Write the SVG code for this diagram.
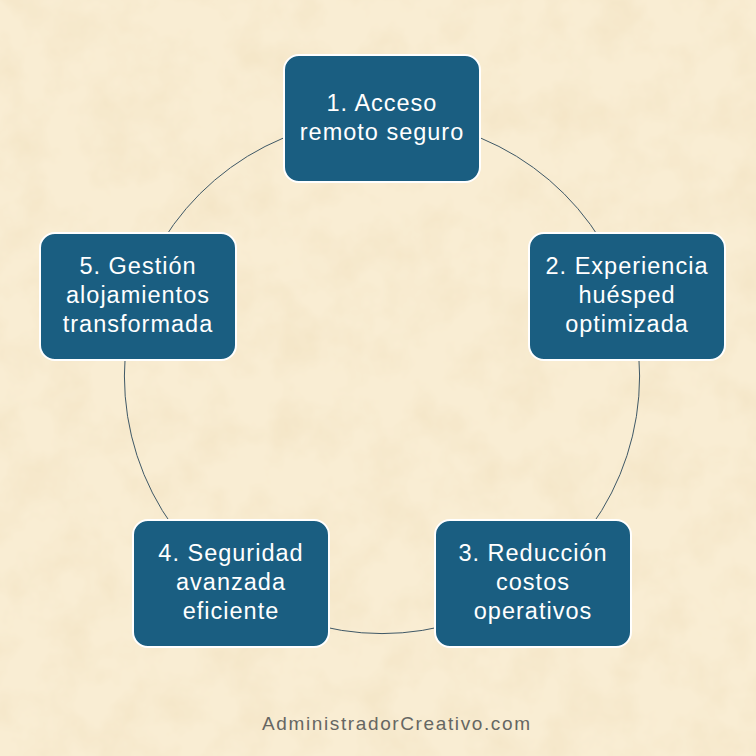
<svg xmlns="http://www.w3.org/2000/svg" width="756" height="756" viewBox="0 0 756 756">
<defs>
<filter id="paper" x="0" y="0" width="100%" height="100%" filterUnits="userSpaceOnUse">
<feTurbulence type="fractalNoise" baseFrequency="0.022" numOctaves="4" seed="7"/>
<feColorMatrix type="matrix" values="0 0 0 0 0.90  0 0 0 0 0.78  0 0 0 0 0.56  0 0 0 1.6 -0.62"/>
</filter>
<style>
.box{fill:#1a5e81;stroke:#ffffff;stroke-width:2}
.lbl{font-family:"Liberation Sans",Arial,sans-serif;font-size:23.5px;fill:#ffffff;text-anchor:middle;letter-spacing:1px}
.arc{fill:none;stroke:#3f5866;stroke-width:1}
.foot{font-family:"Liberation Sans",Arial,sans-serif;font-size:19px;fill:#666662;text-anchor:middle}
</style>
</defs>
<rect x="0" y="0" width="756" height="756" fill="#f9edd3"/>
<rect x="0" y="0" width="756" height="756" filter="url(#paper)"/>
<g id="connectors">
<path class="arc" d="M382,118.4 A257.6,257.6 0 0 1 627,296.4"/>
<path class="arc" d="M627,296.4 A257.6,257.6 0 0 1 533.4,584.4"/>
<path class="arc" d="M533.4,584.4 A257.6,257.6 0 0 1 230.6,584.4"/>
<path class="arc" d="M230.6,584.4 A257.6,257.6 0 0 1 137,296.4"/>
<path class="arc" d="M137,296.4 A257.6,257.6 0 0 1 382,118.4"/>
</g>
<g id="node1">
<rect class="box" x="284" y="55" width="196" height="127" rx="15"/>
<text class="lbl" x="382" y="111">1. Acceso</text>
<text class="lbl" x="382" y="139.5">remoto seguro</text>
</g>
<g id="node2">
<rect class="box" x="529" y="233" width="196" height="127" rx="15"/>
<text class="lbl" x="627" y="273.5">2. Experiencia</text>
<text class="lbl" x="627" y="302.5">huésped</text>
<text class="lbl" x="627" y="331.5">optimizada</text>
</g>
<g id="node3">
<rect class="box" x="435" y="520" width="196" height="127" rx="15"/>
<text class="lbl" x="533" y="560.5">3. Reducción</text>
<text class="lbl" x="533" y="589.5">costos</text>
<text class="lbl" x="533" y="618.5">operativos</text>
</g>
<g id="node4">
<rect class="box" x="133" y="520" width="196" height="127" rx="15"/>
<text class="lbl" x="231" y="560.5">4. Seguridad</text>
<text class="lbl" x="231" y="589.5">avanzada</text>
<text class="lbl" x="231" y="618.5">eficiente</text>
</g>
<g id="node5">
<rect class="box" x="40" y="233" width="196" height="127" rx="15"/>
<text class="lbl" x="138" y="273.5">5. Gestión</text>
<text class="lbl" x="138" y="302.5">alojamientos</text>
<text class="lbl" x="138" y="331.5">transformada</text>
</g>
<text class="foot" x="396" y="730" textLength="268" lengthAdjust="spacing">AdministradorCreativo.com</text>
</svg>
